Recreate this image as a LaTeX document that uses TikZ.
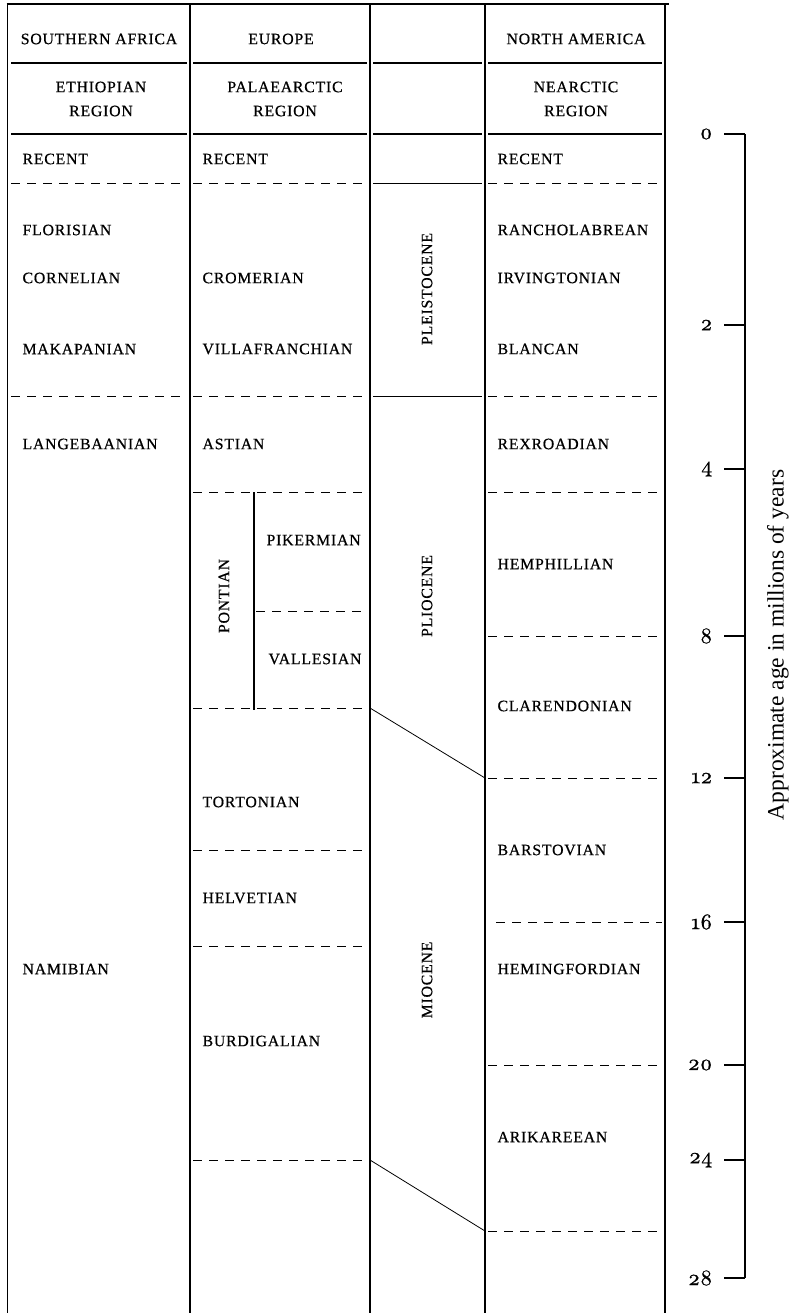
\documentclass[tikz,border=0pt]{standalone}
\usepackage{fontspec}
\setmainfont{Liberation Serif}
\newfontfamily\labface[LetterSpace=5,FakeBold=0.6]{Liberation Serif}
\newfontfamily\oldnums[Numbers=OldStyle,FakeBold=0.6]{lmroman10-regular.otf}
\usepackage{tikz}

\newcommand\labfont{\labface\fontsize{15.8}{24}\selectfont}

\begin{document}
\begin{tikzpicture}[x=1pt, y=-1pt, line width=1.1pt,
  lab/.style={anchor=west, inner sep=0pt, font=\labfont},
  head/.style={inner sep=0pt, align=center, font=\labfont},
  epoch/.style={inner sep=0pt, rotate=90, font=\labfont},
  div/.style={line width=0.9pt, dash pattern=on 9pt off 7pt},
  tick/.style={anchor=east, inner sep=0pt, font=\oldnums\fontsize{22}{22}\selectfont}]
  \useasboundingbox (0,0) rectangle (789,1313);
  % frame of the table
  \draw[line width=2.4pt] (6.5,4) -- (669,4);
  \foreach \x in {7.5,190,370,485,665} \draw (\x,4) -- (\x,1313);
  \foreach \a/\b in {11/187,193/367,373/482,488/662} {
    \draw (\a,63) -- (\b,63);
    \draw[line width=2.8pt] (\a,134) -- (\b,134);
  }
  \foreach \a/\b in {11/187,193/367,488/662} {
    \draw[div] (\a,183) -- (\b,183);
    \draw[div] (\a,396) -- (\b,396);
  }
  \draw[line width=0.9pt] (373,183) -- (482,183);
  \draw[line width=0.9pt] (373,396) -- (482,396);
  % Europe subdivisions
  \foreach \y in {492,708,850,946,1160} \draw[div] (193,\y) -- (367,\y);
  \draw[div] (256,611) -- (367,611);
  \draw (254,492) -- (254,710);
  % North America subdivisions
  \foreach \y in {492,636,778,1065,1231} \draw[div] (488,\y) -- (662,\y);
  \draw[div] (496,922) -- (662,922);
  % epoch boundaries
  \coordinate (valE) at (370,708);
  \coordinate (clarN) at (485,778);
  \coordinate (burE) at (370,1160);
  \coordinate (ariN) at (485,1231);
  \draw[line width=0.8pt] (valE) -- (clarN);
  \draw[line width=0.8pt] (burE) -- (ariN);

  \node[head] (hsa) at (99,39) {SOUTHERN AFRICA};
  \node[head] (heu) at (281,39) {EUROPE};
  \node[head] (hna) at (576,39) {NORTH AMERICA};
  \node[head] (reth) at (101,99) {ETHIOPIAN\\REGION};
  \node[head] (rpal) at (285,99) {PALAEARCTIC\\REGION};
  \node[head] (rnea) at (576,99) {NEARCTIC\\REGION};

  \node[lab] (sa1) at (22,159) {RECENT};
  \node[lab] (sa2) at (22,230) {FLORISIAN};
  \node[lab] (sa3) at (22,278) {CORNELIAN};
  \node[lab] (sa4) at (22,349) {MAKAPANIAN};
  \node[lab] (sa5) at (22,444) {LANGEBAANIAN};
  \node[lab] (sa6) at (22,969) {NAMIBIAN};

  \node[lab] (eu1) at (202,159) {RECENT};
  \node[lab] (eu2) at (202,278) {CROMERIAN};
  \node[lab] (eu3) at (202,349) {VILLAFRANCHIAN};
  \node[lab] (eu4) at (202,444) {ASTIAN};
  \node[lab] (eu5) at (266,540) {PIKERMIAN};
  \node[lab] (eu6) at (268,659) {VALLESIAN};
  \node[lab] (eu7) at (202,802) {TORTONIAN};
  \node[lab] (eu8) at (202,898) {HELVETIAN};
  \node[lab] (eu9) at (202,1041) {BURDIGALIAN};
  \node[epoch] (pont) at (224,596) {PONTIAN};

  \node[epoch] (pleist) at (427,289) {PLEISTOCENE};
  \node[epoch] (plio) at (427,596) {PLIOCENE};
  \node[epoch] (mio) at (427,980) {MIOCENE};

  \node[lab] (na1) at (497,159) {RECENT};
  \node[lab] (na2) at (497,230) {RANCHOLABREAN};
  \node[lab] (na3) at (497,278) {IRVINGTONIAN};
  \node[lab] (na4) at (497,349) {BLANCAN};
  \node[lab] (na5) at (497,444) {REXROADIAN};
  \node[lab] (na6) at (497,564) {HEMPHILLIAN};
  \node[lab] (na7) at (497,706) {CLARENDONIAN};
  \node[lab] (na8) at (497,850) {BARSTOVIAN};
  \node[lab] (na9) at (497,969) {HEMINGFORDIAN};
  \node[lab] (na10) at (497,1137) {ARIKAREEAN};

  % age scale
  \draw (745,134) -- (745,1278);
  \foreach \t/\y in {0/134,2/325,4/469,8/636,12/778,16/922,20/1065,24/1160,28/1278} {
    \draw (724,\y) -- (745,\y);
    \node[tick] (t\t) at (713,\y) {\t};
  }
  \node[rotate=90, font=\fontsize{23.5}{24}\selectfont] (axis) at (778,645) {Approximate age in millions of years};
\end{tikzpicture}
\end{document}
